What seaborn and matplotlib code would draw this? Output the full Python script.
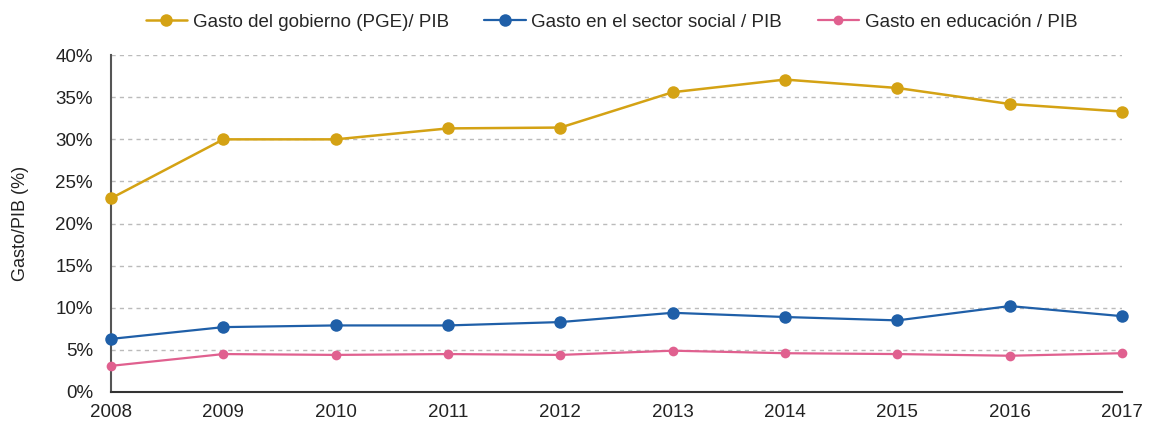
import pandas as pd
import numpy as np
import matplotlib
matplotlib.use('Agg')
import matplotlib.pyplot as plt
import seaborn as sns
from matplotlib.ticker import PercentFormatter

# --- datos ---
anios = [2008, 2009, 2010, 2011, 2012, 2013, 2014, 2015, 2016, 2017]
gasto_gobierno = [23.0, 30.0, 30.0, 31.3, 31.4, 35.6, 37.1, 36.1, 34.2, 33.3]
gasto_social = [6.3, 7.7, 7.9, 7.9, 8.3, 9.4, 8.9, 8.5, 10.2, 9.0]
gasto_educacion = [3.1, 4.5, 4.4, 4.5, 4.4, 4.9, 4.6, 4.5, 4.3, 4.6]

series = [
    ('Gasto del gobierno (PGE)/ PIB', gasto_gobierno, '#D4A214', 1.8, 9),
    ('Gasto en el sector social / PIB', gasto_social, '#1F5FA8', 1.6, 9),
    ('Gasto en educación / PIB', gasto_educacion, '#E0608F', 1.6, 7),
]

sns.set_style('white')
plt.rcParams['font.family'] = ['Liberation Sans', 'DejaVu Sans']

fig = plt.figure(figsize=(11.52, 4.21), dpi=100)
ax = fig.add_axes([0.0964, 0.069, 0.8776, 0.8])

for nombre, valores, color, lw, ms in series:
    df = pd.DataFrame({'anio': anios, 'valor': valores})
    sns.lineplot(data=df, x='anio', y='valor', ax=ax, color=color, linewidth=lw,
                 marker='o', markersize=ms, markeredgewidth=0, label=nombre, zorder=5,
                 clip_on=False)

ax.set_xlim(2008, 2017)
ax.set_ylim(0, 40)
ax.set_xticks(anios)
ax.set_yticks(np.arange(0, 41, 5))
ax.yaxis.set_major_formatter(PercentFormatter(decimals=0))
ax.tick_params(axis='both', labelsize=13.5, length=0, colors='#222222')
ax.tick_params(axis='y', pad=13)
ax.tick_params(axis='x', pad=9)
ax.set_xlabel('')
ax.set_ylabel('Gasto/PIB (%)', fontsize=13, color='#222222', labelpad=19)

ax.grid(axis='y', color='#BBBBBB', linestyle=(0, (3, 3)), linewidth=1)
ax.grid(axis='x', visible=False)
sns.despine(ax=ax)
ax.spines['left'].set_color('#555555')
ax.spines['left'].set_linewidth(1.5)
ax.spines['bottom'].set_color('#333333')
ax.spines['bottom'].set_linewidth(1.5)

ax.legend(loc='center', bbox_to_anchor=(0.495, 1.098), ncol=3, frameon=False,
          fontsize=13.5, handlelength=2.2, handletextpad=0.3, columnspacing=1.9)

fig.savefig('out.png', dpi=100)
